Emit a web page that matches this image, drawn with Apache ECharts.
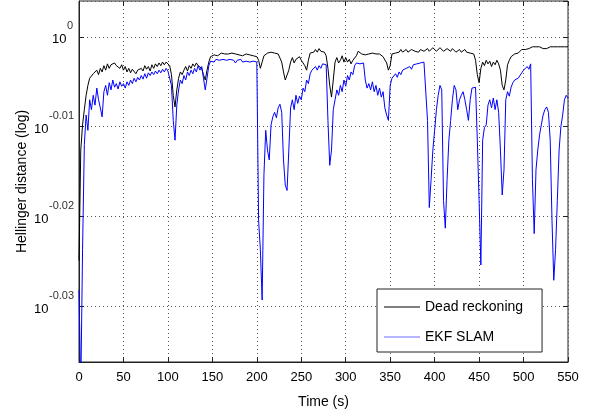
<!DOCTYPE html>
<html>
<head>
<meta charset="utf-8">
<script src="https://cdn.jsdelivr.net/npm/echarts@6/dist/echarts.min.js"></script>
<style>
  html, body { margin: 0; padding: 0; background: #fff; }
  #chart { width: 595px; height: 417px; }
</style>
</head>
<body>
<div id="chart"></div>
<script>
// time axis, seconds
var timeS = [
  0, 2, 4, 6, 8, 10, 12, 14, 16, 18, 20, 22, 24, 26, 28, 30, 32, 34, 36, 38,
  40, 42, 44, 46, 48, 50, 52, 54, 56, 58, 60, 62, 64, 66, 68, 70, 72, 74, 76, 78,
  80, 82, 84, 86, 88, 90, 92, 94, 96, 98, 100, 102, 104, 106, 108, 110, 112, 114, 116, 118,
  120, 122, 124, 126, 128, 130, 132, 134, 136, 138, 140, 142, 144, 146, 148, 150, 152, 154, 156, 158,
  160, 162, 164, 166, 168, 170, 172, 174, 176, 178, 180, 182, 184, 186, 188, 190, 192, 194, 196, 198,
  200, 202, 204, 206, 208, 210, 212, 214, 216, 218, 220, 222, 224, 226, 228, 230, 232, 234, 236, 238,
  240, 242, 244, 246, 248, 250, 252, 254, 256, 258, 260, 262, 264, 266, 268, 270, 272, 274, 276, 278,
  280, 282, 284, 286, 288, 290, 292, 294, 296, 298, 300, 302, 304, 306, 308, 310, 312, 314, 316, 318,
  320, 322, 324, 326, 328, 330, 332, 334, 336, 338, 340, 342, 344, 346, 348, 350, 352, 354, 356, 358,
  360, 362, 364, 366, 368, 370, 372, 374, 376, 378, 380, 382, 384, 386, 388, 390, 392, 394, 396, 398,
  400, 402, 404, 406, 408, 410, 412, 414, 416, 418, 420, 422, 424, 426, 428, 430, 432, 434, 436, 438,
  440, 442, 444, 446, 448, 450, 452, 454, 456, 458, 460, 462, 464, 466, 468, 470, 472, 474, 476, 478,
  480, 482, 484, 486, 488, 490, 492, 494, 496, 498, 500, 502, 504, 506, 508, 510, 512, 514, 516, 518,
  520, 522, 524, 526, 528, 530, 532, 534, 536, 538, 540, 542, 544, 546, 548, 550
];

// log10 of the Hellinger distance
var deadReckoning = [
  -0.0249, -0.0126, -0.0098, -0.0081, -0.0065, -0.0054, -0.0046, -0.0048, -0.0041, -0.0043,
  -0.0037, -0.0042, -0.0035, -0.0039, -0.0032, -0.0037, -0.0030, -0.0035, -0.0031, -0.0033,
  -0.0029, -0.0032, -0.0030, -0.0035, -0.0031, -0.0037, -0.0033, -0.0039, -0.0035, -0.0040,
  -0.0036, -0.0038, -0.0041, -0.0037, -0.0039, -0.0035, -0.0038, -0.0032, -0.0036, -0.0033,
  -0.0038, -0.0031, -0.0035, -0.0030, -0.0033, -0.0029, -0.0032, -0.0028, -0.0031, -0.0028,
  -0.0030, -0.0032, -0.0042, -0.0065, -0.0078, -0.0059, -0.0046, -0.0039, -0.0042, -0.0037,
  -0.0033, -0.0038, -0.0032, -0.0035, -0.0030, -0.0033, -0.0029, -0.0032, -0.0030, -0.0035,
  -0.0042, -0.0048, -0.0037, -0.0028, -0.0022, -0.0021, -0.0020, -0.0019, -0.0021, -0.0019,
  -0.0018, -0.0020, -0.0019, -0.0021, -0.0019, -0.0020, -0.0018, -0.0020, -0.0019, -0.0021,
  -0.0020, -0.0019, -0.0021, -0.0020, -0.0019, -0.0021, -0.0020, -0.0022, -0.0021, -0.0020,
  -0.0022, -0.0026, -0.0035, -0.0028, -0.0021, -0.0019, -0.0018, -0.0020, -0.0017, -0.0019,
  -0.0018, -0.0020, -0.0019, -0.0021, -0.0028, -0.0039, -0.0048, -0.0050, -0.0037, -0.0028,
  -0.0023, -0.0029, -0.0025, -0.0027, -0.0022, -0.0026, -0.0028, -0.0032, -0.0037, -0.0026,
  -0.0018, -0.0016, -0.0017, -0.0014, -0.0017, -0.0013, -0.0016, -0.0014, -0.0017, -0.0021,
  -0.0035, -0.0054, -0.0067, -0.0048, -0.0028, -0.0023, -0.0029, -0.0026, -0.0021, -0.0028,
  -0.0023, -0.0028, -0.0025, -0.0030, -0.0026, -0.0028, -0.0021, -0.0016, -0.0018, -0.0019,
  -0.0017, -0.0020, -0.0018, -0.0019, -0.0021, -0.0018, -0.0020, -0.0019, -0.0021, -0.0019,
  -0.0020, -0.0022, -0.0023, -0.0029, -0.0037, -0.0032, -0.0019, -0.0017, -0.0018, -0.0016,
  -0.0017, -0.0014, -0.0017, -0.0016, -0.0014, -0.0017, -0.0016, -0.0014, -0.0013, -0.0016,
  -0.0014, -0.0017, -0.0014, -0.0013, -0.0016, -0.0014, -0.0013, -0.0016, -0.0014, -0.0012,
  -0.0013, -0.0016, -0.0014, -0.0012, -0.0013, -0.0016, -0.0014, -0.0013, -0.0014, -0.0016,
  -0.0013, -0.0014, -0.0017, -0.0016, -0.0014, -0.0017, -0.0016, -0.0014, -0.0017, -0.0016,
  -0.0018, -0.0017, -0.0019, -0.0026, -0.0042, -0.0051, -0.0035, -0.0028, -0.0032, -0.0026,
  -0.0030, -0.0027, -0.0033, -0.0028, -0.0031, -0.0026, -0.0030, -0.0037, -0.0054, -0.0059,
  -0.0048, -0.0031, -0.0026, -0.0022, -0.0020, -0.0019, -0.0017, -0.0018, -0.0016, -0.0014,
  -0.0013, -0.0014, -0.0012, -0.0013, -0.0012, -0.0011, -0.0012, -0.0011, -0.0012, -0.0011,
  -0.0012, -0.0013, -0.0012, -0.0013, -0.0012, -0.0011, -0.0012, -0.0011, -0.0010, -0.0011,
  -0.0010, -0.0011, -0.0010, -0.0011, -0.0010, -0.0011
];

var ekfSlam = [
  -0.0282, -0.0394, -0.0237, -0.0120, -0.0087, -0.0104, -0.0070, -0.0081, -0.0065, -0.0076,
  -0.0057, -0.0070, -0.0079, -0.0089, -0.0061, -0.0054, -0.0065, -0.0051, -0.0059, -0.0048,
  -0.0056, -0.0052, -0.0058, -0.0050, -0.0055, -0.0052, -0.0057, -0.0050, -0.0054, -0.0048,
  -0.0052, -0.0046, -0.0050, -0.0045, -0.0048, -0.0043, -0.0047, -0.0041, -0.0046, -0.0040,
  -0.0043, -0.0039, -0.0042, -0.0038, -0.0041, -0.0037, -0.0040, -0.0036, -0.0039, -0.0035,
  -0.0038, -0.0037, -0.0054, -0.0093, -0.0115, -0.0076, -0.0059, -0.0048, -0.0052, -0.0043,
  -0.0048, -0.0039, -0.0043, -0.0037, -0.0041, -0.0035, -0.0039, -0.0032, -0.0037, -0.0033,
  -0.0046, -0.0059, -0.0046, -0.0032, -0.0027, -0.0026, -0.0028, -0.0025, -0.0027, -0.0026,
  -0.0028, -0.0025, -0.0027, -0.0026, -0.0028, -0.0025, -0.0027, -0.0026, -0.0029, -0.0026,
  -0.0027, -0.0025, -0.0028, -0.0026, -0.0027, -0.0025, -0.0028, -0.0026, -0.0027, -0.0029,
  -0.0028, -0.0204, -0.0237, -0.0293, -0.0154, -0.0104, -0.0126, -0.0137, -0.0098, -0.0089,
  -0.0084, -0.0090, -0.0079, -0.0075, -0.0084, -0.0137, -0.0165, -0.0171, -0.0126, -0.0079,
  -0.0070, -0.0081, -0.0065, -0.0074, -0.0066, -0.0070, -0.0057, -0.0061, -0.0048, -0.0052,
  -0.0041, -0.0037, -0.0039, -0.0033, -0.0037, -0.0032, -0.0035, -0.0030, -0.0032, -0.0031,
  -0.0093, -0.0143, -0.0126, -0.0081, -0.0070, -0.0059, -0.0065, -0.0054, -0.0061, -0.0048,
  -0.0055, -0.0043, -0.0048, -0.0039, -0.0042, -0.0032, -0.0029, -0.0028, -0.0030, -0.0028,
  -0.0029, -0.0048, -0.0057, -0.0052, -0.0059, -0.0050, -0.0061, -0.0054, -0.0065, -0.0057,
  -0.0067, -0.0061, -0.0079, -0.0087, -0.0093, -0.0054, -0.0046, -0.0048, -0.0041, -0.0045,
  -0.0039, -0.0042, -0.0037, -0.0039, -0.0035, -0.0037, -0.0033, -0.0036, -0.0031, -0.0033,
  -0.0030, -0.0031, -0.0029, -0.0028, -0.0028, -0.0029, -0.0093, -0.0190, -0.0159, -0.0126,
  -0.0104, -0.0081, -0.0065, -0.0054, -0.0059, -0.0182, -0.0213, -0.0159, -0.0115, -0.0093,
  -0.0070, -0.0054, -0.0059, -0.0081, -0.0070, -0.0065, -0.0061, -0.0070, -0.0081, -0.0093,
  -0.0070, -0.0057, -0.0059, -0.0056, -0.0115, -0.0182, -0.0254, -0.0115, -0.0101, -0.0098,
  -0.0076, -0.0070, -0.0079, -0.0068, -0.0081, -0.0070, -0.0084, -0.0126, -0.0176, -0.0148,
  -0.0070, -0.0061, -0.0066, -0.0056, -0.0051, -0.0048, -0.0050, -0.0046, -0.0048, -0.0040,
  -0.0037, -0.0039, -0.0033, -0.0036, -0.0030, -0.0159, -0.0219, -0.0148, -0.0126, -0.0109,
  -0.0098, -0.0087, -0.0081, -0.0078, -0.0084, -0.0115, -0.0204, -0.0271, -0.0237, -0.0182,
  -0.0126, -0.0100, -0.0087, -0.0070, -0.0065, -0.0068
];

var xTicks = { min: 0, max: 550, step: 50 };
var yRange = { min: -0.0362, max: 0.004, step: 0.01 };

function pairs(values) {
  return timeS.map(function (t, i) { return [t, values[i]]; });
}

var chart = echarts.init(document.getElementById('chart'), null, { renderer: 'canvas' });

var font = 'Liberation Sans, Arial, Helvetica, sans-serif';
var gridLine = { show: true, lineStyle: { color: '#555', width: 1, type: [1, 3] } };
var inTick = { show: true, inside: true, length: 5, lineStyle: { color: '#222' } };

var option = {
  animation: false,
  backgroundColor: '#fff',
  textStyle: { fontFamily: font },
  grid: {
    left: 79, right: 27, top: 1, bottom: 55,
    show: true, borderColor: '#222', borderWidth: 1, backgroundColor: '#fff'
  },
  legend: {
    orient: 'vertical',
    left: 377, top: 289,
    padding: [10, 19, 7, 7],
    icon: 'rect',
    itemWidth: 36, itemHeight: 1, itemGap: 14,
    backgroundColor: '#fff',
    borderColor: '#222', borderWidth: 1, borderRadius: 0,
    textStyle: { fontFamily: font, fontSize: 14, lineHeight: 16, color: '#000' },
    data: [
      { name: 'Dead reckoning', itemStyle: { color: '#000' } },
      { name: 'EKF SLAM', itemStyle: { color: '#6f6fff' } }
    ]
  },
  xAxis: [{
    type: 'value',
    min: xTicks.min, max: xTicks.max, interval: xTicks.step,
    name: 'Time (s)', nameLocation: 'middle', nameGap: 33,
    nameTextStyle: { fontFamily: font, fontSize: 14, color: '#000' },
    axisLine: { show: true, onZero: false, lineStyle: { color: '#222' } },
    axisTick: inTick,
    axisLabel: { margin: 9, fontFamily: font, fontSize: 13, color: '#000' },
    splitLine: gridLine
  }, {
    type: 'value', position: 'top',
    min: xTicks.min, max: xTicks.max, interval: xTicks.step,
    axisLine: { show: false, onZero: false },
    axisTick: inTick,
    axisLabel: { show: false },
    splitLine: { show: false }
  }],
  yAxis: [{
    type: 'value',
    min: yRange.min, max: yRange.max,
    minInterval: yRange.step, maxInterval: yRange.step,
    name: 'Hellinger distance (log)', nameLocation: 'middle', nameGap: 50,
    nameMoveOverlap: false,
    nameTextStyle: { fontFamily: font, fontSize: 14, color: '#000' },
    axisLine: { show: true, onZero: false, lineStyle: { color: '#222' } },
    axisTick: inTick,
    axisLabel: {
      margin: 5,
      padding: [6, 0, 0, 0],
      showMinLabel: false, showMaxLabel: false,
      formatter: function (v) {
        var e = Math.round(v * 100) / 100;
        return e === 0 ? '{b|10}{z|0}' : '{b|10}{e|' + e + '}';
      },
      rich: {
        b: { fontFamily: font, fontSize: 13, color: '#000', lineHeight: 38, width: 15, align: 'left' },
        z: { fontFamily: font, fontSize: 11, color: '#333', lineHeight: 12, verticalAlign: 'top', width: 7, align: 'left' },
        e: { fontFamily: font, fontSize: 11, color: '#333', lineHeight: 12, verticalAlign: 'top', width: 25, align: 'left' }
      }
    },
    splitLine: gridLine
  }, {
    type: 'value', position: 'right',
    min: yRange.min, max: yRange.max,
    minInterval: yRange.step, maxInterval: yRange.step,
    axisLine: { show: false, onZero: false },
    axisTick: inTick,
    axisLabel: { show: false },
    splitLine: { show: false }
  }],
  series: [{
    name: 'Dead reckoning',
    type: 'line',
    data: pairs(deadReckoning),
    symbol: 'none',
    clip: true,
    color: '#000',
    lineStyle: { color: '#000', width: 1 }
  }, {
    name: 'EKF SLAM',
    type: 'line',
    data: pairs(ekfSlam),
    symbol: 'none',
    clip: true,
    color: '#0000ff',
    lineStyle: { color: '#0000ff', width: 1 }
  }]
};

chart.setOption(option);
</script>
</body>
</html>
